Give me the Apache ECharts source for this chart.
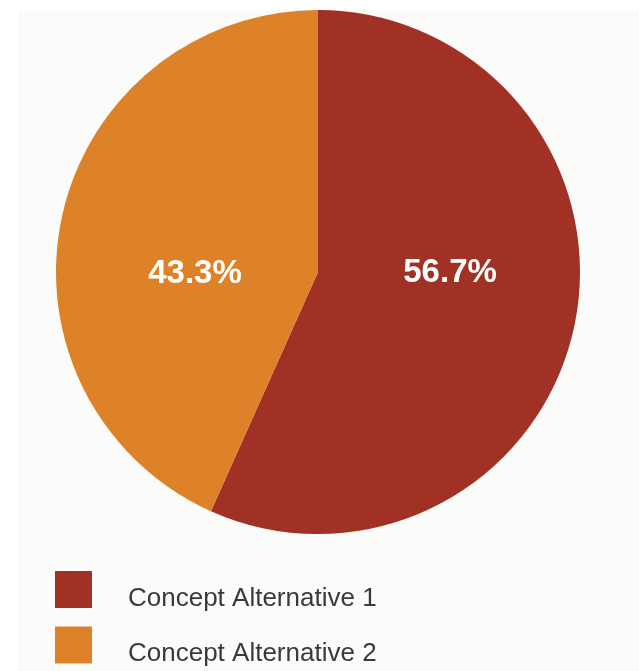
<!DOCTYPE html>
<html>
<head>
<meta charset="utf-8">
<script src="https://cdn.jsdelivr.net/npm/echarts@6/dist/echarts.min.js"></script>
<style>
html,body{margin:0;padding:0;background:#ffffff;}
#chart{width:639px;height:671px;}
</style>
</head>
<body>
<div id="chart"></div>
<script>
const categories = ["Concept Alternative 1", "Concept Alternative 2"];
const values = [56.7, 43.3];
const colors = ["#a13125", "#dd8228"];
const labelOffsets = [[1, -27], [8, 30]];

const chart = echarts.init(document.getElementById('chart'), null, {renderer: 'canvas'});
chart.setOption({
  animation: false,
  backgroundColor: '#ffffff',
  graphic: [{
    type: 'rect', z: -10, silent: true,
    shape: {x: 18, y: 10, width: 640, height: 680},
    style: {fill: '#fbfbf9'}
  }],
  legend: {
    orient: 'vertical',
    left: 55, top: 571,
    height: 200,
    padding: 0,
    itemWidth: 37, itemHeight: 37, itemGap: 15,
    icon: 'rect',
    data: categories,
    formatter: '{t|{name}}',
    textStyle: {
      fontFamily: 'Liberation Sans',
      fontSize: 26,
      color: '#3a3a3a',
      rich: {
        t: {
          fontFamily: 'Liberation Sans',
          fontSize: 26,
          color: '#3a3a3a',
          padding: [18, 0, 0, 31]
        }
      }
    }
  },
  series: [{
    type: 'pie',
    center: [318, 272],
    radius: 262,
    startAngle: 90,
    clockwise: true,
    emphasis: {disabled: true},
    labelLine: {show: false},
    label: {
      show: true,
      position: 'inside',
      formatter: '{c}%',
      color: '#ffffff',
      fontFamily: 'Liberation Sans',
      fontWeight: 'bold',
      fontSize: 33
    },
    data: categories.map((name, i) => ({
      name: name,
      value: values[i],
      itemStyle: {color: colors[i]},
      label: {offset: labelOffsets[i]}
    }))
  }]
});
</script>
</body>
</html>
